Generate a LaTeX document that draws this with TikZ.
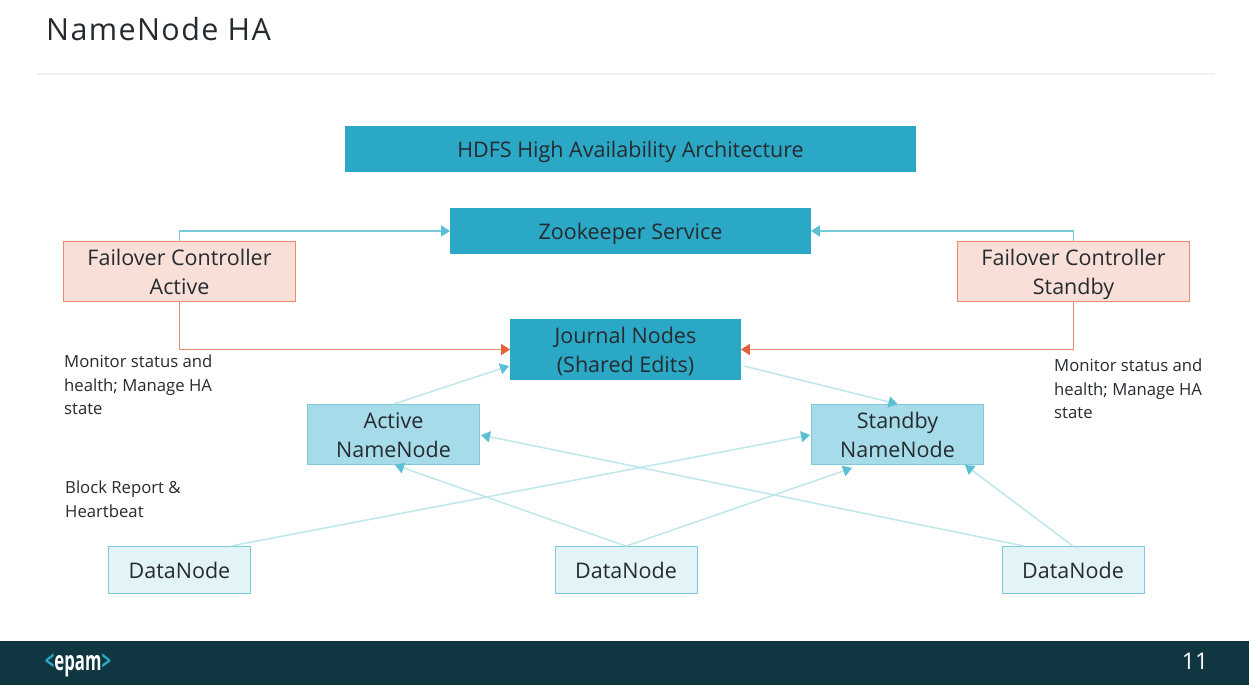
\documentclass[tikz,border=0pt]{standalone}
\usepackage{fontspec}
\setmainfont{Open Sans}
\usetikzlibrary{arrows.meta}
\definecolor{mainTeal}{HTML}{2BA8C6}
\definecolor{midTeal}{HTML}{A6DCEA}
\definecolor{paleTeal}{HTML}{E3F4F8}
\definecolor{edgeTeal}{HTML}{7CCADB}
\definecolor{lineTeal}{HTML}{BFE6EA}
\definecolor{tipTeal}{HTML}{5BBFD6}
\definecolor{paleRed}{HTML}{F8DFD8}
\definecolor{edgeRed}{HTML}{EC8A6C}
\definecolor{tipRed}{HTML}{E5623A}
\definecolor{mainText}{HTML}{262B30}
\definecolor{footBar}{HTML}{0F3641}
\tikzset{
    headbox/.style={draw=mainTeal, fill=mainTeal, line width=0.8pt, inner sep=0pt, font=\fontsize{21.5}{29}\selectfont, align=center, text=mainText, text depth=7pt},
    twolines/.style={headbox, text height=53pt},
    oneline/.style={headbox, text height=24.6pt},
    failbox/.style={twolines, draw=edgeRed, fill=paleRed, minimum width=232pt, minimum height=60pt},
    namebox/.style={twolines, draw=edgeTeal, fill=midTeal, minimum width=172pt, minimum height=60pt},
    databox/.style={oneline, draw=edgeTeal, fill=paleTeal, minimum width=142pt, minimum height=47pt},
    notetext/.style={anchor=north west, inner sep=0pt, align=left, text=mainText, font=\fontsize{16.7}{23.5}\selectfont},
    tealline/.style={draw=lineTeal, line width=1.5pt, -{Triangle[length=9pt,width=11pt,color=tipTeal,fill=tipTeal]}},
    topline/.style={tealline, draw=tipTeal!70!lineTeal},
    redline/.style={draw=edgeRed, line width=1.5pt, -{Triangle[length=9pt,width=11pt,color=tipRed,fill=tipRed]}}
}
\begin{document}
\begin{tikzpicture}[x=1pt, y=-1pt]
    \useasboundingbox (0,0) rectangle (1249,693);
    % slide frame
    \fill[white] (0,0) rectangle (1249,693);
    \fill[footBar] (0,641) rectangle (1249,685);
    \draw[black!6, line width=2.5pt] (37,74) -- (1215,74);
    \node[anchor=west, inner sep=0pt, text=mainText, font=\fontsize{30.5}{34}\selectfont\addfontfeature{LetterSpace=4.5}] (slideTitle) at (46,29) {NameNode HA};
    \node[inner sep=0pt, text=white, xscale=0.62, font=\fontsize{27}{30}\selectfont\bfseries] (logoText) at (78,665) {\textcolor{mainTeal}{<}epam\textcolor{mainTeal}{>}};
    \node[inner sep=0pt, text=white, font=\fontsize{23}{26}\selectfont] (pageNum) at (1195,661) {11};

    % main boxes
    \node[oneline, minimum width=570pt, minimum height=45pt] (titleBox) at (630.5,149) {HDFS High Availability Architecture};
    \node[oneline, minimum width=360pt, minimum height=45pt] (zooBox) at (630.5,231) {Zookeeper Service};
    \node[twolines, minimum width=230pt, minimum height=58pt] (journal) at (625.5,349.5) {Journal Nodes\\(Shared Edits)};
    \node[failbox] (failActive) at (179.5,271.5) {Failover Controller\\Active};
    \node[failbox] (failStandby) at (1073.5,271.5) {Failover Controller\\Standby};
    \node[namebox] (nameActive) at (393.5,434.5) {Active\\NameNode};
    \node[namebox] (nameStandby) at (897.5,434.5) {Standby\\NameNode};
    \node[databox] (dataLeft) at (179.5,570) {DataNode};
    \node[databox] (dataMid) at (626,570) {DataNode};
    \node[databox] (dataRight) at (1073,570) {DataNode};

    % notes
    \node[notetext] (noteActive) at (64,355) {Monitor status and\\health; Manage HA\\state};
    \node[notetext] (noteStandby) at (1054,359) {Monitor status and\\health; Manage HA\\state};
    \node[notetext] (noteBlock) at (65,481) {Block Report \&\\Heartbeat};

    % free ends
    \coordinate (journalIn) at (509,366);
    \coordinate (journalOut) at (744,366);
    \coordinate (dataLeftOut) at (231,546);
    \coordinate (dataRightOut) at (1024,546);
    \coordinate (standbyWest) at (810,435);
    \coordinate (standbyLow) at (852,468);
    \coordinate (standbyRight) at (965,465);
    \coordinate (activeEast) at (481,435);
    \coordinate (activeLow) at (395,465);

    % connectors
    \draw[topline] (failActive.north) |- (zooBox.west);
    \draw[topline] (failStandby.north) |- (zooBox.east);
    \draw[redline] (failActive.south) |- (journal.west);
    \draw[redline] (failStandby.south) |- (journal.east);
    \draw[tealline] (nameActive.north) -- (journalIn);
    \draw[tealline] (journalOut) -- (nameStandby.north);
    \draw[tealline] (dataLeftOut) -- (standbyWest);
    \draw[tealline] (dataMid.north) -- (activeLow);
    \draw[tealline] (dataMid.north) -- (standbyLow);
    \draw[tealline] (dataRightOut) -- (activeEast);
    \draw[tealline] (dataRight.north) -- (standbyRight);
\end{tikzpicture}
\end{document}
